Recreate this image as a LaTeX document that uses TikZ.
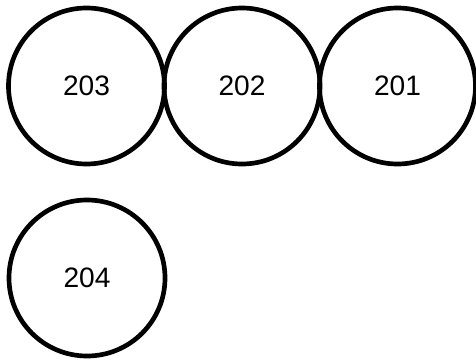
\documentclass[tikz,border=0pt]{standalone}
\usepackage{fontspec}
\setmainfont{Liberation Sans}
\usetikzlibrary{positioning}

\begin{document}
\begin{tikzpicture}[
    x=0.03cm, y=-0.03cm,
    font=\fontsize{24}{28}\selectfont,
    disc/.style={draw=black, circle, line width=0.14cm, minimum size=4.68cm, inner sep=0pt, align=center}
]

% Bounding box
\useasboundingbox (0, 0) rectangle (476, 360);

% Top row
\node[disc] (c203) at (86.5, 86) {203};
\node[disc] (c202) at (242, 86) {202};
\node[disc] (c201) at (397.5, 86) {201};

% Bottom row
\node[disc] (c204) at (87, 278) {204};

\end{tikzpicture}
\end{document}
